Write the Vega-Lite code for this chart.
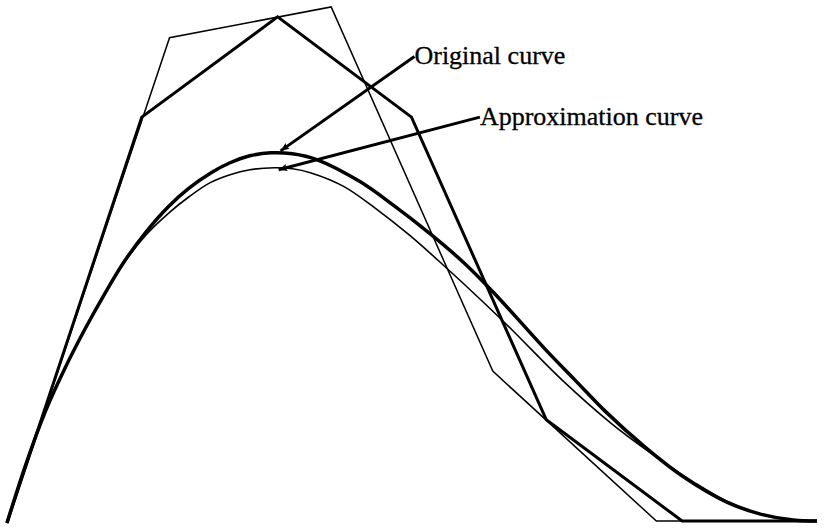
{
  "$schema": "https://vega.github.io/schema/vega-lite/v6.json",
  "width": 824,
  "height": 530,
  "autosize": {"type": "fit", "contains": "padding"},
  "padding": 0,
  "background": "white",
  "config": {"view": {"stroke": null}},
  "datasets": {
    "lines": [
      {"series": "thin_polygon", "i": 0, "x": 7, "y": 3},
      {"series": "thin_polygon", "i": 1, "x": 171, "y": 492},
      {"series": "thin_polygon", "i": 2, "x": 334, "y": 523},
      {"series": "thin_polygon", "i": 3, "x": 497, "y": 156},
      {"series": "thin_polygon", "i": 4, "x": 662, "y": 5},
      {"series": "thin_polygon", "i": 5, "x": 824, "y": 5},

      {"series": "thick_polygon", "i": 0, "x": 7, "y": 3},
      {"series": "thick_polygon", "i": 1, "x": 143, "y": 412},
      {"series": "thick_polygon", "i": 2, "x": 280, "y": 513},
      {"series": "thick_polygon", "i": 3, "x": 415, "y": 412},
      {"series": "thick_polygon", "i": 4, "x": 551, "y": 107},
      {"series": "thick_polygon", "i": 5, "x": 688, "y": 5},
      {"series": "thick_polygon", "i": 6, "x": 824, "y": 5},

      {"series": "approx_curve", "i": 0, "x": 7, "y": 3},
      {"series": "approx_curve", "i": 1, "x": 26, "y": 62},
      {"series": "approx_curve", "i": 2, "x": 46, "y": 116},
      {"series": "approx_curve", "i": 3, "x": 66, "y": 160},
      {"series": "approx_curve", "i": 4, "x": 86, "y": 199},
      {"series": "approx_curve", "i": 5, "x": 105, "y": 233},
      {"series": "approx_curve", "i": 6, "x": 125, "y": 265},
      {"series": "approx_curve", "i": 7, "x": 147, "y": 293},
      {"series": "approx_curve", "i": 8, "x": 171, "y": 316},
      {"series": "approx_curve", "i": 9, "x": 191, "y": 332},
      {"series": "approx_curve", "i": 10, "x": 212, "y": 346},
      {"series": "approx_curve", "i": 11, "x": 232, "y": 354},
      {"series": "approx_curve", "i": 12, "x": 252, "y": 359},
      {"series": "approx_curve", "i": 13, "x": 277, "y": 361},
      {"series": "approx_curve", "i": 14, "x": 295, "y": 360},
      {"series": "approx_curve", "i": 15, "x": 313, "y": 356},
      {"series": "approx_curve", "i": 16, "x": 347, "y": 342},
      {"series": "approx_curve", "i": 17, "x": 380, "y": 319},
      {"series": "approx_curve", "i": 18, "x": 413, "y": 293},
      {"series": "approx_curve", "i": 19, "x": 447, "y": 263},
      {"series": "approx_curve", "i": 20, "x": 487, "y": 226},
      {"series": "approx_curve", "i": 21, "x": 517, "y": 197},
      {"series": "approx_curve", "i": 22, "x": 567, "y": 147},
      {"series": "approx_curve", "i": 23, "x": 617, "y": 103},
      {"series": "approx_curve", "i": 24, "x": 667, "y": 66},
      {"series": "approx_curve", "i": 25, "x": 700, "y": 44},
      {"series": "approx_curve", "i": 26, "x": 733, "y": 25},
      {"series": "approx_curve", "i": 27, "x": 767, "y": 12},
      {"series": "approx_curve", "i": 28, "x": 800, "y": 6},
      {"series": "approx_curve", "i": 29, "x": 824, "y": 5},

      {"series": "original_curve", "i": 0, "x": 7, "y": 3},
      {"series": "original_curve", "i": 1, "x": 26, "y": 62},
      {"series": "original_curve", "i": 2, "x": 46, "y": 116},
      {"series": "original_curve", "i": 3, "x": 66, "y": 160},
      {"series": "original_curve", "i": 4, "x": 86, "y": 199},
      {"series": "original_curve", "i": 5, "x": 105, "y": 233},
      {"series": "original_curve", "i": 6, "x": 125, "y": 266},
      {"series": "original_curve", "i": 7, "x": 147, "y": 296},
      {"series": "original_curve", "i": 8, "x": 170, "y": 322},
      {"series": "original_curve", "i": 9, "x": 190, "y": 340},
      {"series": "original_curve", "i": 10, "x": 213, "y": 356},
      {"series": "original_curve", "i": 11, "x": 232, "y": 366},
      {"series": "original_curve", "i": 12, "x": 252, "y": 373},
      {"series": "original_curve", "i": 13, "x": 273, "y": 376},
      {"series": "original_curve", "i": 14, "x": 295, "y": 375},
      {"series": "original_curve", "i": 15, "x": 320, "y": 369},
      {"series": "original_curve", "i": 16, "x": 363, "y": 347},
      {"series": "original_curve", "i": 17, "x": 397, "y": 323},
      {"series": "original_curve", "i": 18, "x": 433, "y": 295},
      {"series": "original_curve", "i": 19, "x": 467, "y": 266},
      {"series": "original_curve", "i": 20, "x": 498, "y": 235},
      {"series": "original_curve", "i": 21, "x": 550, "y": 178},
      {"series": "original_curve", "i": 22, "x": 580, "y": 147},
      {"series": "original_curve", "i": 23, "x": 610, "y": 116},
      {"series": "original_curve", "i": 24, "x": 650, "y": 80},
      {"series": "original_curve", "i": 25, "x": 690, "y": 49},
      {"series": "original_curve", "i": 26, "x": 733, "y": 24},
      {"series": "original_curve", "i": 27, "x": 767, "y": 12},
      {"series": "original_curve", "i": 28, "x": 800, "y": 6},
      {"series": "original_curve", "i": 29, "x": 824, "y": 5}
    ],
    "arrows": [
      {"label": "Original curve", "x": 418, "y": 473, "x2": 283, "y2": 378},
      {"label": "Approximation curve", "x": 484, "y": 412, "x2": 281, "y2": 359}
    ],
    "labels": [
      {"label": "Original curve", "x": 418, "y": 466},
      {"label": "Approximation curve", "x": 484, "y": 404}
    ]
  },
  "layer": [
    {
      "data": {"name": "lines"},
      "transform": [{"filter": "datum.series === 'thin_polygon'"}],
      "mark": {"type": "line", "color": "black", "strokeWidth": 1.5, "interpolate": "linear"},
      "encoding": {
        "x": {"field": "x", "type": "quantitative", "scale": {"domain": [0, 824], "nice": false, "zero": false}, "axis": null},
        "y": {"field": "y", "type": "quantitative", "scale": {"domain": [0, 530], "nice": false, "zero": false}, "axis": null},
        "order": {"field": "i"}
      }
    },
    {
      "data": {"name": "lines"},
      "transform": [{"filter": "datum.series === 'thick_polygon'"}],
      "mark": {"type": "line", "color": "black", "strokeWidth": 3, "interpolate": "linear"},
      "encoding": {
        "x": {"field": "x", "type": "quantitative", "axis": null},
        "y": {"field": "y", "type": "quantitative", "axis": null},
        "order": {"field": "i"}
      }
    },
    {
      "data": {"name": "lines"},
      "transform": [{"filter": "datum.series === 'approx_curve'"}],
      "mark": {"type": "line", "color": "black", "strokeWidth": 1.6, "interpolate": "catmull-rom"},
      "encoding": {
        "x": {"field": "x", "type": "quantitative", "axis": null},
        "y": {"field": "y", "type": "quantitative", "axis": null},
        "order": {"field": "i"}
      }
    },
    {
      "data": {"name": "lines"},
      "transform": [{"filter": "datum.series === 'original_curve'"}],
      "mark": {"type": "line", "color": "black", "strokeWidth": 3.5, "interpolate": "catmull-rom"},
      "encoding": {
        "x": {"field": "x", "type": "quantitative", "axis": null},
        "y": {"field": "y", "type": "quantitative", "axis": null},
        "order": {"field": "i"}
      }
    },
    {
      "data": {"name": "arrows"},
      "mark": {"type": "rule", "color": "black", "strokeWidth": 3},
      "encoding": {
        "x": {"field": "x", "type": "quantitative", "axis": null},
        "y": {"field": "y", "type": "quantitative", "axis": null},
        "x2": {"field": "x2"},
        "y2": {"field": "y2"}
      }
    },
    {
      "data": {"name": "arrows"},
      "transform": [{"filter": "datum.label === 'Original curve'"}],
      "mark": {"type": "point", "shape": "M0,0L-1,-0.42L-0.8,0L-1,0.42Z", "filled": true, "color": "black", "opacity": 1, "size": 300, "angle": 145},
      "encoding": {
        "x": {"field": "x2", "type": "quantitative", "axis": null},
        "y": {"field": "y2", "type": "quantitative", "axis": null}
      }
    },
    {
      "data": {"name": "arrows"},
      "transform": [{"filter": "datum.label === 'Approximation curve'"}],
      "mark": {"type": "point", "shape": "M0,0L-1,-0.42L-0.8,0L-1,0.42Z", "filled": true, "color": "black", "opacity": 1, "size": 300, "angle": 165},
      "encoding": {
        "x": {"field": "x2", "type": "quantitative", "axis": null},
        "y": {"field": "y2", "type": "quantitative", "axis": null}
      }
    },
    {
      "data": {"name": "labels"},
      "mark": {"type": "text", "font": "Liberation Serif", "fontSize": 26, "align": "left", "baseline": "alphabetic", "color": "black", "stroke": "black", "strokeWidth": 0.3},
      "encoding": {
        "x": {"field": "x", "type": "quantitative", "axis": null},
        "y": {"field": "y", "type": "quantitative", "axis": null},
        "text": {"field": "label"}
      }
    }
  ]
}
